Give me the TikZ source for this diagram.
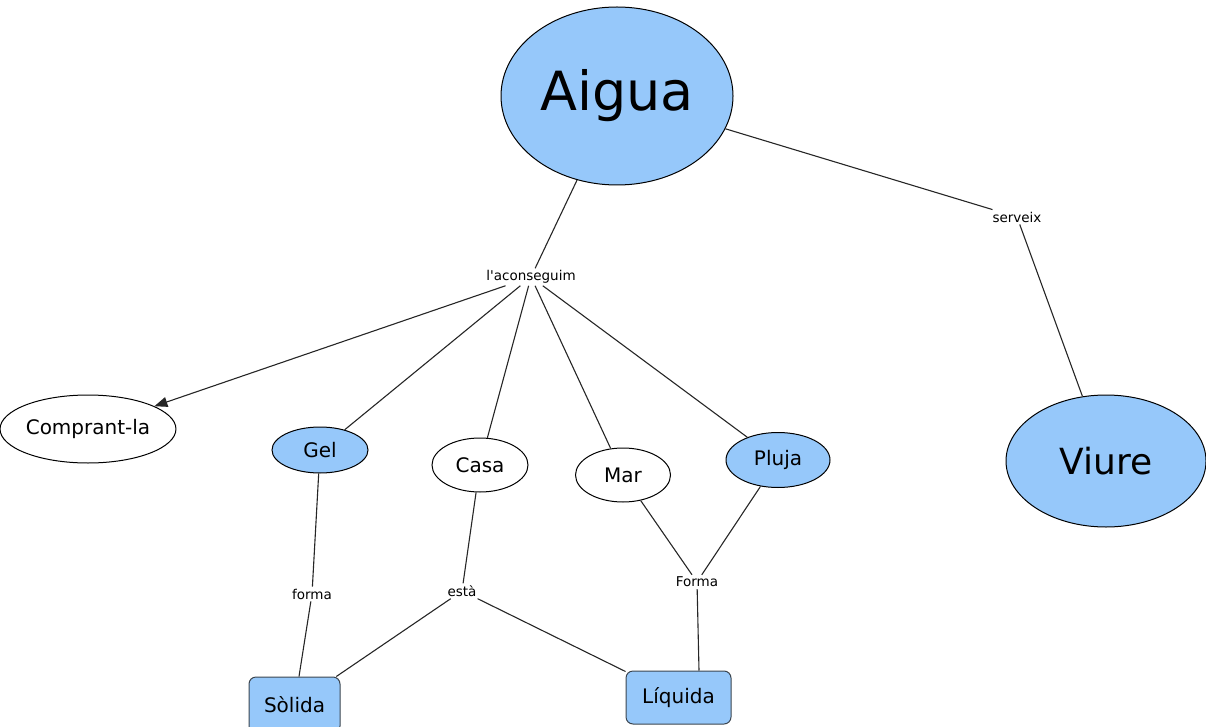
\documentclass[tikz,border=0pt]{standalone}
\usepackage{fontspec}
\setmainfont{DejaVu Sans}[Ligatures=TeXOff]
\usetikzlibrary{shapes.geometric,arrows.meta}
\definecolor{nodeblue}{RGB}{150,200,250}
\definecolor{boxedge}{RGB}{60,70,80}
\tikzset{
  conc/.style={ellipse,draw=black,line width=1pt,inner sep=0pt,font=\fontsize{20}{24}\selectfont},
  blue/.style={fill=nodeblue},
  white/.style={fill=white},
  boxnode/.style={rectangle,rounded corners=7pt,draw=boxedge,line width=1pt,fill=nodeblue,inner sep=0pt,font=\fontsize{20}{24}\selectfont},
  lab/.style={inner sep=2pt,font=\fontsize{13.5}{16}\selectfont},
  link/.style={line width=1.1pt,draw=black!85},
}
\begin{document}
\begin{tikzpicture}[x=1pt,y=-1pt]
\useasboundingbox (0,0) rectangle (1206,727);
% concepts
\node[conc,blue,minimum width=232pt,minimum height=178pt,font=\fontsize{54}{60}\selectfont] (aigua) at (617,96) {Aigua};
\node[conc,blue,minimum width=200pt,minimum height=132pt,font=\fontsize{36}{42}\selectfont] (viure) at (1106,461) {Viure};
\node[conc,white,minimum width=156pt,minimum height=68pt] (compr) at (88,429) {Comprant-la};
\node[conc,blue,minimum width=96pt,minimum height=46pt] (gel) at (320,450) {Gel};
\node[conc,white,minimum width=96pt,minimum height=54pt] (casa) at (480,465) {Casa};
\node[conc,white,minimum width=95pt,minimum height=54pt] (mar) at (623,475) {Mar};
\node[conc,blue,minimum width=104pt,minimum height=55pt] (pluja) at (778,460) {Pluja};
\node[boxnode,minimum width=91pt,minimum height=56pt] (solida) at (294.5,705) {Sòlida};
\node[boxnode,minimum width=105pt,minimum height=53pt] (liquida) at (678.5,697.5) {Líquida};
% linking phrases
\node[lab] (acons) at (531,277) {l'aconseguim};
\node[lab] (serveix) at (1017,217) {serveix};
\node[lab] (forma1) at (312,594) {forma};
\node[lab] (esta) at (462,591) {està};
\node[lab] (forma2) at (697,582) {Forma};
\coordinate (liqtop) at ([xshift=2pt]forma2.south |- liquida.north);
% connectors
\draw[link] (aigua) -- (acons);
\draw[link,-{Triangle[length=13pt,width=10pt]}] (acons) -- (compr);
\draw[link] (acons) -- (gel);
\draw[link] (acons) -- (casa);
\draw[link] (acons) -- (mar);
\draw[link] (acons) -- (pluja);
\draw[link] (aigua) -- (serveix);
\draw[link] (serveix) -- (viure);
\draw[link] (gel) -- (forma1);
\draw[link] (forma1) -- (solida);
\draw[link] (casa) -- (esta);
\draw[link] (esta) -- (solida);
\draw[link] (esta) -- (liquida);
\draw[link] (mar) -- (forma2);
\draw[link] (pluja) -- (forma2);
\draw[link] (forma2) -- (liqtop);
\end{tikzpicture}
\end{document}
